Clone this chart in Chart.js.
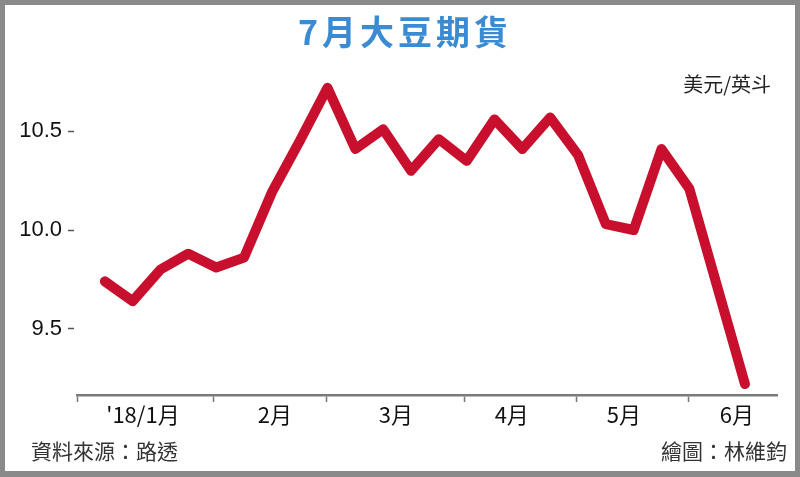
<!DOCTYPE html>
<html>
<head>
<meta charset="utf-8">
<script src="https://cdn.jsdelivr.net/npm/chart.js@4.4.1/dist/chart.umd.min.js"></script>
<style>
  html, body { margin: 0; padding: 0; background: #fff; }
  #wrap { width: 800px; height: 477px; position: relative; }
</style>
</head>
<body>
<div id="wrap"><canvas id="c" width="800" height="477"></canvas></div>
<script>
// ---- data ----
const weekIndex = [0,1,2,3,4,5,6,7,8,9,10,11,12,13,14,15,16,17,18,19,20,21,22,23];
const prices = [9.74, 9.64, 9.80, 9.88, 9.81, 9.86, 10.19, 10.45, 10.72, 10.41, 10.51, 10.30,
                10.46, 10.35, 10.56, 10.41, 10.57, 10.38, 10.03, 10.00, 10.41, 10.21, null, 9.22];
const monthLabels = ["'18/1月", "2月", "3月", "4月", "5月", "6月"];
const monthStarts = [-1, 3.92, 7.98, 12.94, 16.96, 20.98];   // month boundaries (week units)
const monthLabelAt = [1.37, 6.11, 10.46, 14.62, 18.65, 22.71]; // label centres (week units)
const yTicks = [9.5, 10.0, 10.5];

const titleText = "7月大豆期貨";
const unitText = "美元/英斗";
const sourceText = "資料來源：路透";
const creditText = "繪圖：林維鈞";

const points = weekIndex.map((x, i) => ({ x: x, y: prices[i] }));
const boundarySet = new Set(monthStarts);

const decor = {
  id: 'decor',
  beforeDraw(chart) {
    const ctx = chart.ctx;
    ctx.save();
    ctx.fillStyle = '#ffffff';
    ctx.fillRect(0, 0, chart.width, chart.height);
    ctx.restore();
  },
  afterDraw(chart) {
    const ctx = chart.ctx;
    ctx.save();
    // title
    ctx.fillStyle = '#3b8bd2';
    ctx.font = 'bold 34px "Noto Sans CJK TC"';
    ctx.textBaseline = 'middle';
    ctx.textAlign = 'center';
    if ('letterSpacing' in ctx) ctx.letterSpacing = '4px';
    ctx.fillText(titleText, 405, 32);
    if ('letterSpacing' in ctx) ctx.letterSpacing = '0px';
    // unit
    ctx.fillStyle = '#222';
    ctx.font = '20px "Noto Sans CJK TC"';
    ctx.textAlign = 'right';
    ctx.fillText(unitText, 771, 84);
    // footer
    ctx.fillStyle = '#333';
    ctx.font = '21px "Noto Sans CJK TC"';
    ctx.textAlign = 'left';
    ctx.fillText(sourceText, 31, 451);
    ctx.textAlign = 'right';
    ctx.fillText(creditText, 787, 451);
    // frame
    ctx.strokeStyle = '#8a8a8a';
    ctx.lineWidth = 5;
    ctx.strokeRect(2.5, 2.5, chart.width - 5, chart.height - 6);
    ctx.fillStyle = '#8a8a8a';
    ctx.fillRect(0, chart.height - 6, chart.width, 6);
    ctx.restore();
  }
};

new Chart(document.getElementById('c'), {
  type: 'line',
  data: {
    datasets: [{
      data: points,
      borderColor: '#c8102e',
      borderWidth: 10,
      borderJoinStyle: 'round',
      borderCapStyle: 'round',
      pointRadius: 0,
      tension: 0,
      spanGaps: true,
      fill: false
    }]
  },
  options: {
    responsive: false,
    animation: false,
    layout: { padding: { left: 0, right: 23, top: 60, bottom: 42 } },
    plugins: { legend: { display: false }, tooltip: { enabled: false }, title: { display: false } },
    scales: {
      x: {
        type: 'linear',
        min: -1,
        max: 24.15,
        afterFit(scale) { scale.height = 40; },
        afterBuildTicks(scale) {
          const t = monthStarts.map(v => ({ value: v }))
            .concat(monthLabelAt.map(v => ({ value: v })));
          t.sort((a, b) => a.value - b.value);
          scale.ticks = t;
        },
        border: { display: true, color: '#7a7a7a', width: 2.5 },
        grid: {
          display: true,
          drawOnChartArea: false,
          drawTicks: true,
          tickLength: 7,
          tickWidth: 1.5,
          tickColor: (c) => (c.tick && boundarySet.has(c.tick.value)) ? '#777' : 'rgba(0,0,0,0)'
        },
        ticks: {
          autoSkip: false,
          maxRotation: 0,
          minRotation: 0,
          padding: -1,
          color: '#111',
          font: { family: '"Noto Sans CJK TC"', size: 22 },
          callback: (v) => {
            const k = monthLabelAt.indexOf(v);
            return k >= 0 ? monthLabels[k] : '';
          }
        }
      },
      y: {
        type: 'linear',
        min: 9.1646,
        max: 10.8608,
        afterFit(scale) { scale.width = 77; },
        afterBuildTicks(scale) { scale.ticks = yTicks.map(v => ({ value: v })); },
        border: { display: false },
        grid: {
          display: true,
          drawOnChartArea: false,
          drawTicks: true,
          tickLength: 9,
          tickWidth: 1.5,
          tickColor: '#555',
          tickBorderDash: [6, 30]
        },
        ticks: {
          padding: 6,
          color: '#111',
          font: { family: '"Liberation Sans"', size: 22 },
          callback: (v) => Number(v).toFixed(1)
        }
      }
    }
  },
  plugins: [decor]
});
</script>
</body>
</html>
